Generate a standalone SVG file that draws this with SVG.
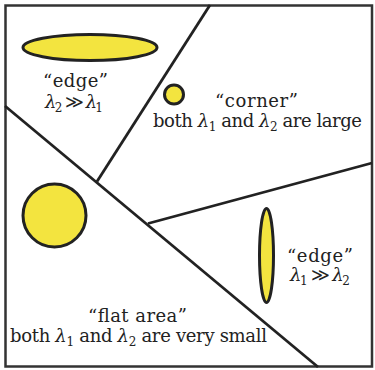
<svg xmlns="http://www.w3.org/2000/svg" width="375" height="370" viewBox="0 0 375 370">
<style>
.ln{stroke:#222;stroke-width:2.8;fill:none;stroke-linecap:butt}
.blob{fill:#f3e43f;stroke:#222;stroke-width:3}
text{font-family:'DejaVu Serif','Liberation Serif',serif;font-size:18px;fill:#222;text-anchor:middle}
.l{font-style:italic}
.s{font-size:12px}
</style>
<rect x="0" y="0" width="375" height="370" fill="#fff"/>
<rect x="5.5" y="5.5" width="366.5" height="361" fill="none" stroke="#333" stroke-width="2.5"/>
<g id="connectors">
<line class="ln" x1="210" y1="5" x2="97" y2="181.5"/>
<line class="ln" x1="5" y1="106" x2="318" y2="367"/>
<line class="ln" x1="148" y1="223.5" x2="372" y2="163"/>
</g>
<g id="edge-horizontal">
<ellipse class="blob" cx="90" cy="47.5" rx="67" ry="13"/>
<text x="75.5" y="87" textLength="65">“edge”</text>
<text x="74" y="108" textLength="58"><tspan class="l">λ</tspan><tspan class="s" dy="4">2</tspan><tspan dy="-4"> ≫ </tspan><tspan class="l">λ</tspan><tspan class="s" dy="4">1</tspan></text>
</g>
<g id="corner">
<circle class="blob" cx="174" cy="94.5" r="9.5"/>
<text x="256.5" y="107" textLength="83">“corner”</text>
<text x="257.5" y="127" textLength="209"><tspan>both </tspan><tspan class="l">λ</tspan><tspan class="s" dy="4">1</tspan><tspan dy="-4"> and </tspan><tspan class="l">λ</tspan><tspan class="s" dy="4">2</tspan><tspan dy="-4"> are large</tspan></text>
</g>
<g id="flat">
<circle class="blob" cx="54.5" cy="215.5" r="31.5"/>
<text x="137.5" y="322" textLength="99">“flat area”</text>
<text x="138.5" y="342" textLength="257"><tspan>both </tspan><tspan class="l">λ</tspan><tspan class="s" dy="4">1</tspan><tspan dy="-4"> and </tspan><tspan class="l">λ</tspan><tspan class="s" dy="4">2</tspan><tspan dy="-4"> are very small</tspan></text>
</g>
<g id="edge-vertical">
<ellipse class="blob" cx="266.5" cy="255.5" rx="7" ry="47"/>
<text x="320" y="262" textLength="66">“edge”</text>
<text x="320" y="281" textLength="60"><tspan class="l">λ</tspan><tspan class="s" dy="4">1</tspan><tspan dy="-4"> ≫ </tspan><tspan class="l">λ</tspan><tspan class="s" dy="4">2</tspan></text>
</g>
</svg>
